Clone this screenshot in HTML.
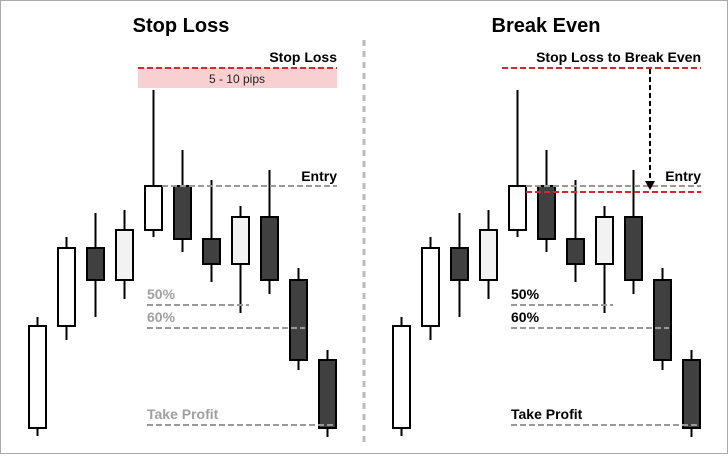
<!DOCTYPE html>
<html><head><style>html,body{margin:0;padding:0;background:#fff}</style></head><body>
<svg width="728" height="454" viewBox="0 0 728 454" xmlns="http://www.w3.org/2000/svg" font-family="Liberation Sans, Arial, sans-serif">
<rect x="0.5" y="0.5" width="727" height="453" fill="#fff" stroke="#aaa"/>
<line x1="364" y1="40" x2="364" y2="442" stroke="#bbb" stroke-width="3" stroke-dasharray="6,5"/>
<text x="181" y="32" font-size="20" font-weight="bold" text-anchor="middle">Stop Loss</text>
<text x="546" y="32" font-size="20" font-weight="bold" text-anchor="middle">Break Even</text>
<defs>
<g id="c">
<g stroke="#000" stroke-width="2">
<line x1="37.5" y1="317" x2="37.5" y2="436"/><rect x="29" y="326" width="17" height="102" fill="#fff"/>
<line x1="66.5" y1="237" x2="66.5" y2="340"/><rect x="58" y="248" width="17" height="78" fill="#fff"/>
<line x1="95.5" y1="213" x2="95.5" y2="317"/><rect x="87" y="248" width="17" height="32" fill="#404040"/>
<line x1="124.5" y1="210" x2="124.5" y2="299"/><rect x="116" y="230" width="17" height="50" fill="#f2f2f2"/>
<line x1="153.5" y1="90" x2="153.5" y2="237"/><rect x="145" y="186" width="17" height="44" fill="#fff"/>
<line x1="182.5" y1="150" x2="182.5" y2="252"/><rect x="174" y="186" width="17" height="53" fill="#404040"/>
<line x1="211.5" y1="180" x2="211.5" y2="282"/><rect x="203" y="239" width="17" height="25" fill="#404040"/>
<line x1="240.5" y1="206" x2="240.5" y2="313"/><rect x="232" y="217" width="17" height="47" fill="#f2f2f2"/>
<line x1="269.5" y1="170" x2="269.5" y2="294"/><rect x="261" y="217" width="17" height="63" fill="#404040"/>
<line x1="298.5" y1="268" x2="298.5" y2="370"/><rect x="290" y="280" width="17" height="80" fill="#404040"/>
<line x1="327.5" y1="350" x2="327.5" y2="437"/><rect x="319" y="360" width="17" height="68" fill="#404040"/>
</g>
<g stroke="#999" stroke-width="2" stroke-dasharray="6,3">
<line x1="162" y1="186" x2="337" y2="186"/>
<line x1="147" y1="305" x2="249" y2="305"/>
<line x1="147" y1="328" x2="305" y2="328"/>
<line x1="147" y1="425" x2="336" y2="425"/>
</g>
<text x="337" y="181" font-size="14" font-weight="bold" text-anchor="end">Entry</text>
</g>
</defs>
<rect x="138" y="68" width="199" height="20" fill="#f8d0d2"/>
<use href="#c"/>
<use href="#c" x="364"/>
<line x1="138" y1="68" x2="337" y2="68" stroke="#d9262f" stroke-width="2" stroke-dasharray="6,3"/>
<text x="237" y="83" font-size="12" text-anchor="middle" fill="#222">5 - 10 pips</text>
<text x="337" y="62" font-size="14" font-weight="bold" text-anchor="end">Stop Loss</text>
<g font-size="14" font-weight="bold" fill="#a0a0a0">
<text x="147" y="299">50%</text><text x="147" y="322">60%</text><text x="147" y="419">Take Profit</text>
</g>
<g font-size="14" font-weight="bold" fill="#000">
<text x="511" y="299">50%</text><text x="511" y="322">60%</text><text x="511" y="419">Take Profit</text>
<text x="701" y="62" text-anchor="end">Stop Loss to Break Even</text>
</g>
<g stroke="#d9262f" stroke-width="2" stroke-dasharray="6,3">
<line x1="502" y1="68" x2="701" y2="68"/>
<line x1="526" y1="192" x2="701" y2="192"/>
</g>
<line x1="650" y1="69" x2="650" y2="183" stroke="#000" stroke-width="2" stroke-dasharray="5,3"/>
<polygon points="645,181 655,181 650,190" fill="#000"/>
</svg>
</body></html>
